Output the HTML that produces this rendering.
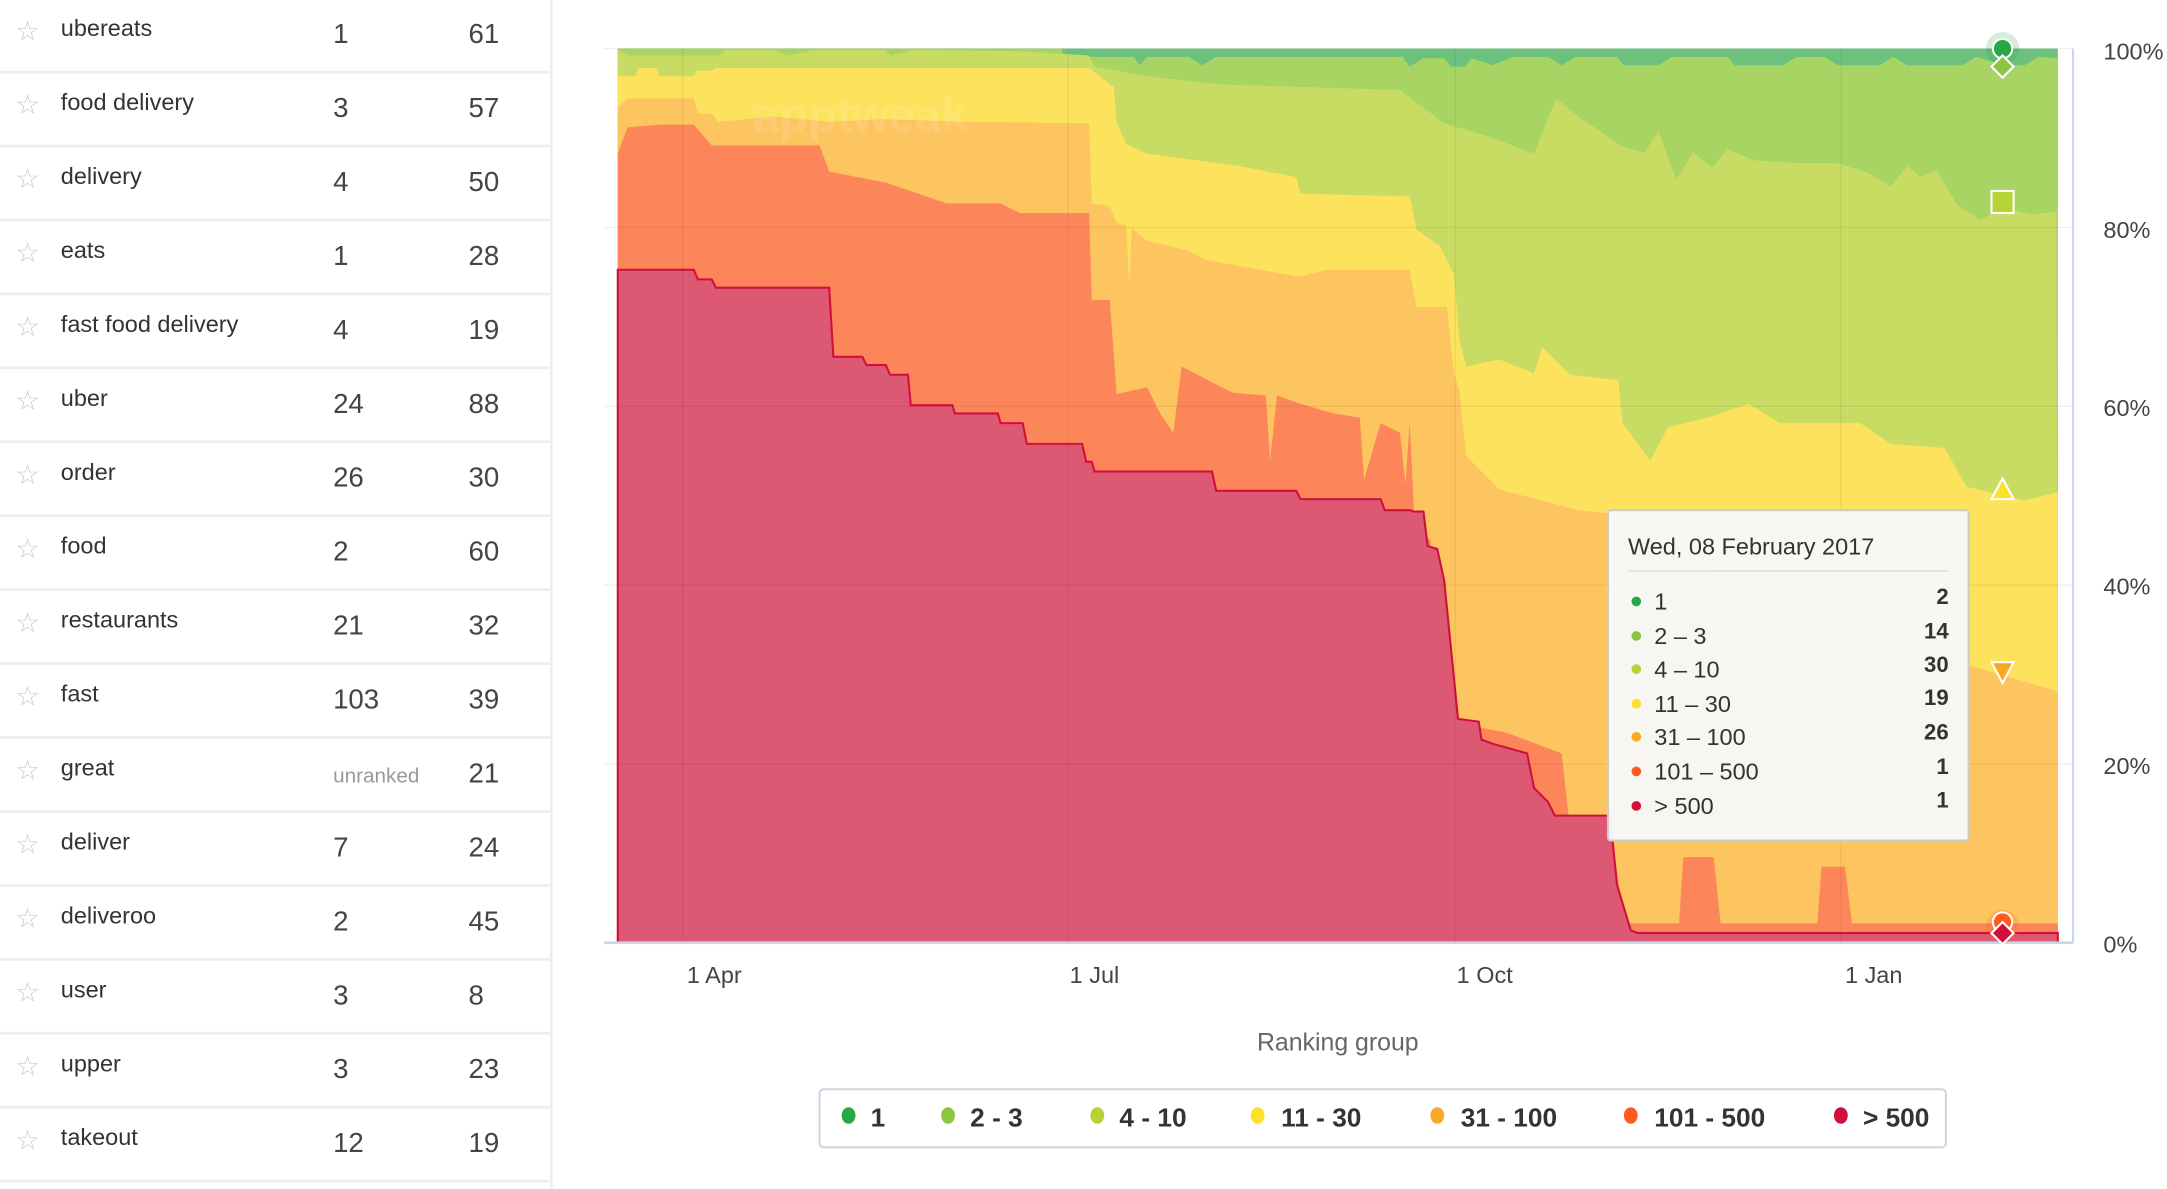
<!DOCTYPE html>
<html><head><meta charset="utf-8"><style>
html,body{margin:0;padding:0;background:#fff;width:2167px;height:1189px;overflow:hidden}
svg{display:block}
text{font-family:"Liberation Sans",sans-serif}
</style></head><body>
<svg width="2167" height="1189" viewBox="0 0 1568 860" xmlns="http://www.w3.org/2000/svg">
<!-- table -->
<g font-size="17" fill="#333">
<line x1="399" y1="0" x2="399" y2="860" stroke="#eee" stroke-width="2"/>
<g stroke="#eee" stroke-width="2">
<line x1="0" y1="52" x2="399" y2="52"/><line x1="0" y1="105.5" x2="399" y2="105.5"/><line x1="0" y1="159" x2="399" y2="159"/><line x1="0" y1="212.5" x2="399" y2="212.5"/><line x1="0" y1="266" x2="399" y2="266"/><line x1="0" y1="319.5" x2="399" y2="319.5"/><line x1="0" y1="373" x2="399" y2="373"/><line x1="0" y1="426.5" x2="399" y2="426.5"/><line x1="0" y1="480" x2="399" y2="480"/><line x1="0" y1="533.5" x2="399" y2="533.5"/><line x1="0" y1="587" x2="399" y2="587"/><line x1="0" y1="640.5" x2="399" y2="640.5"/><line x1="0" y1="694" x2="399" y2="694"/><line x1="0" y1="747.5" x2="399" y2="747.5"/><line x1="0" y1="801" x2="399" y2="801"/><line x1="0" y1="854.5" x2="399" y2="854.5"/>
</g>
<g font-size="20" fill="#ccc">
<text x="11" y="29">☆</text><text x="11" y="82.5">☆</text><text x="11" y="136">☆</text><text x="11" y="189.5">☆</text><text x="11" y="243">☆</text><text x="11" y="296.5">☆</text><text x="11" y="350">☆</text><text x="11" y="403.5">☆</text><text x="11" y="457">☆</text><text x="11" y="510.5">☆</text><text x="11" y="564">☆</text><text x="11" y="617.5">☆</text><text x="11" y="671">☆</text><text x="11" y="724.5">☆</text><text x="11" y="778">☆</text><text x="11" y="831.5">☆</text>
</g>
<g>
<text x="44" y="26">ubereats</text><text x="44" y="79.5">food delivery</text><text x="44" y="133">delivery</text><text x="44" y="186.5">eats</text><text x="44" y="240">fast food delivery</text><text x="44" y="293.5">uber</text><text x="44" y="347">order</text><text x="44" y="400.5">food</text><text x="44" y="454">restaurants</text><text x="44" y="507.5">fast</text><text x="44" y="561">great</text><text x="44" y="614.5">deliver</text><text x="44" y="668">deliveroo</text><text x="44" y="721.5">user</text><text x="44" y="775">upper</text><text x="44" y="828.5">takeout</text>
</g>
<g font-size="20" fill="#444">
<text x="241" y="31">1</text><text x="241" y="84.5">3</text><text x="241" y="138">4</text><text x="241" y="191.5">1</text><text x="241" y="245">4</text><text x="241" y="298.5">24</text><text x="241" y="352">26</text><text x="241" y="405.5">2</text><text x="241" y="459">21</text><text x="241" y="512.5">103</text><text x="241" y="566" font-size="15" fill="#999">unranked</text><text x="241" y="619.5">7</text><text x="241" y="673">2</text><text x="241" y="726.5">3</text><text x="241" y="780">3</text><text x="241" y="833.5">12</text>
<text x="339" y="31">61</text><text x="339" y="84.5">57</text><text x="339" y="138">50</text><text x="339" y="191.5">28</text><text x="339" y="245">19</text><text x="339" y="298.5">88</text><text x="339" y="352">30</text><text x="339" y="405.5">60</text><text x="339" y="459">32</text><text x="339" y="512.5">39</text><text x="339" y="566">21</text><text x="339" y="619.5">24</text><text x="339" y="673">45</text><text x="339" y="726.5">8</text><text x="339" y="780">23</text><text x="339" y="833.5">19</text>
</g>
</g>
<!-- chart areas -->
<rect x="447" y="35" width="1042" height="647" fill="#6cc27c"/>
<polygon fill="#a8d463" points="447,35 768,35 770,41 820,41 825,47 830,41 860,41 870,47 880,41 1015,41 1020,48 1030,42 1045,42 1050,48 1060,48 1065,42 1080,47 1095,41 1120,41 1130,47 1140,41 1170,41 1175,47 1200,47 1210,41 1250,41 1255,47 1290,47 1300,41 1320,41 1330,47 1360,47 1370,41 1380,47 1420,47 1430,41 1450,47 1465,47 1475,41 1489,42 1489,682 447,682"/>
<polygon fill="#c8dc63" points="447,36 455,40 520,40 525,36 560,36 570,40 590,36 640,36 645,40 660,36 740,37 788,40 792,48 830,55 884,61 1013,65 1045,89 1078,99 1110,111 1126,71 1142,84 1174,106 1190,110 1200,95 1213,130 1225,110 1239,121 1250,108 1270,116 1304,118 1330,118 1352,125 1368,135 1380,120 1390,128 1401,123 1417,149 1433,159 1450,150 1470,155 1488,153 1489,682 447,682"/>
<polygon fill="#fde25e" points="447,55 460,55 462,49 475,49 477,55 502,55 504,51 515,51 518,49 788,49 806,63 808,89 815,104 830,111 897,120 938,128 941,140 1020,142 1025,166 1042,178 1052,198 1056,246 1061,265 1085,260 1110,270 1116,251 1136,271 1171,275 1174,306 1194,333 1207,309 1239,301 1265,292 1288,306 1346,306 1368,321 1407,324 1423,352 1465,362 1489,356 1489,682 447,682"/>
<polygon fill="#fdc55f" points="447,77 455,71 502,71 505,82 515,82 520,88 560,84 600,88 640,86 700,88 788,89 790,147 803,149 808,161 815,163 817,207 819,165 830,174 859,181 873,188 940,200 960,195 1020,195 1025,222 1047,222 1052,270 1056,282 1061,330 1085,354 1142,369 1170,372 1250,420 1350,460 1420,480 1489,500 1489,682 447,682"/>
<polygon fill="#fc8659" points="447,111 454,92 478,90 502,90 515,105 593,105 600,124 641,132 685,147 724,147 738,154 788,154 790,217 803,217 808,285 830,280 840,300 849,313 855,265 878,277 892,284 916,286 919,333 924,286 941,292 965,299 984,302 987,347 999,306 1013,313 1017,350 1020,306 1024,386 1035,390 1045,520 1065,525 1090,530 1130,545 1135,590 1165,592 1175,668 1215,668 1218,620 1240,620 1245,668 1315,668 1318,627 1335,627 1340,668 1489,668 1489,682 447,682"/>
<polygon fill="#dd5873" stroke="#d0103a" stroke-width="1.5" points="447,195 502,195 505,202 515,202 518,208 600,208 603,258 624,258 627,264 641,264 644,271 657,271 659,293 689,293 691,299 722,299 724,306 740,306 743,321 783,321 786,334 790,334 792,341 877,341 880,355 938,355 941,361 999,361 1002,369 1020,369 1023,370 1030,370 1033,395 1040,397 1045,420 1050,470 1055,520 1070,522 1072,535 1080,538 1105,545 1110,570 1120,580 1125,590 1165,590 1170,640 1180,673 1185,675 1489,675 1489,682 447,682"/>
<text x="545" y="95" font-size="34" font-weight="bold" fill="#fff" fill-opacity="0.12">apptweak</text>
<!-- grid -->
<g stroke="#000" stroke-opacity="0.06" stroke-width="1">
<line x1="437" y1="35" x2="1500" y2="35"/><line x1="437" y1="164.4" x2="1500" y2="164.4"/><line x1="437" y1="293.8" x2="1500" y2="293.8"/><line x1="437" y1="423.2" x2="1500" y2="423.2"/><line x1="437" y1="552.6" x2="1500" y2="552.6"/>
<line x1="494" y1="35" x2="494" y2="682"/><line x1="773" y1="35" x2="773" y2="682"/><line x1="1053" y1="35" x2="1053" y2="682"/><line x1="1332" y1="35" x2="1332" y2="682"/>
</g>
<line x1="1500" y1="35" x2="1500" y2="682" stroke="#ccd6eb" stroke-width="1.5"/>
<line x1="437" y1="682" x2="1500" y2="682" stroke="#ccd6eb" stroke-width="2"/>
<!-- markers -->
<circle cx="1449" cy="35" r="12" fill="#28a745" fill-opacity="0.2"/>
<circle cx="1449" cy="35" r="7" fill="#28a745" stroke="#fff" stroke-width="1.5"/>
<polygon points="1449,40 1457,48 1449,56 1441,48" fill="#8cc63f" stroke="#fff" stroke-width="1.5"/>
<rect x="1441" y="138" width="16" height="16" fill="#b5d334" stroke="#fff" stroke-width="1.5"/>
<polygon points="1449,346 1457,361 1441,361" fill="#fde02a" stroke="#fff" stroke-width="1.5"/>
<polygon points="1441,479 1457,479 1449,494" fill="#f9a825" stroke="#fff" stroke-width="1.5"/>
<circle cx="1449" cy="670" r="12" fill="#ff5a1f" fill-opacity="0.2"/>
<circle cx="1449" cy="667" r="7" fill="#ff5a1f" stroke="#fff" stroke-width="1.5"/>
<polygon points="1449,667 1457,675 1449,683 1441,675" fill="#d0103a" stroke="#fff" stroke-width="1.5"/>
<!-- y labels -->
<g font-size="17" fill="#444">
<text x="1522" y="43">100%</text><text x="1522" y="172">80%</text><text x="1522" y="301">60%</text><text x="1522" y="430">40%</text><text x="1522" y="560">20%</text><text x="1522" y="689">0%</text>
</g>
<g font-size="17" fill="#444">
<text x="497" y="711">1 Apr</text><text x="774" y="711">1 Jul</text><text x="1054" y="711">1 Oct</text><text x="1335" y="711">1 Jan</text>
</g>
<text x="968" y="760" font-size="18" fill="#666" text-anchor="middle">Ranking group</text>
<!-- legend -->
<rect x="593" y="788" width="815" height="42" rx="3" fill="#fff" stroke="#ccd6e0" stroke-width="1.5"/>
<g font-size="19" font-weight="bold" fill="#333">
<ellipse cx="614" cy="807" rx="5" ry="6" fill="#28a745"/><text x="630" y="815">1</text>
<ellipse cx="686" cy="807" rx="5" ry="6" fill="#8cc63f"/><text x="702" y="815">2 - 3</text>
<ellipse cx="794" cy="807" rx="5" ry="6" fill="#b5d334"/><text x="810" y="815">4 - 10</text>
<ellipse cx="910" cy="807" rx="5" ry="6" fill="#fde02a"/><text x="927" y="815">11 - 30</text>
<ellipse cx="1040" cy="807" rx="5" ry="6" fill="#f9a825"/><text x="1057" y="815">31 - 100</text>
<ellipse cx="1180" cy="807" rx="5" ry="6" fill="#ff5a1f"/><text x="1197" y="815">101 - 500</text>
<ellipse cx="1332" cy="807" rx="5" ry="6" fill="#d0103a"/><text x="1348" y="815">&gt; 500</text>
</g>
<!-- tooltip -->
<rect x="1163.5" y="369" width="261" height="239" rx="2" fill="#f8f8f8" fill-opacity="0.96" stroke="#ccc" stroke-width="1.5"/>
<text x="1178" y="401" font-size="17" fill="#333">Wed, 08 February 2017</text>
<line x1="1178" y1="413" x2="1410" y2="413" stroke="#e3e3e3" stroke-width="1.5"/>
<g font-size="17" fill="#333">
<circle cx="1184" cy="435" r="3.5" fill="#28a745"/><text x="1197" y="441">1</text>
<circle cx="1184" cy="460" r="3.5" fill="#8cc63f"/><text x="1197" y="466">2 – 3</text>
<circle cx="1184" cy="484" r="3.5" fill="#b5d334"/><text x="1197" y="490">4 – 10</text>
<circle cx="1184" cy="509" r="3.5" fill="#fde02a"/><text x="1197" y="515">11 – 30</text>
<circle cx="1184" cy="533" r="3.5" fill="#f9a825"/><text x="1197" y="539">31 – 100</text>
<circle cx="1184" cy="558" r="3.5" fill="#ff5a1f"/><text x="1197" y="564">101 – 500</text>
<circle cx="1184" cy="583" r="3.5" fill="#d0103a"/><text x="1197" y="589">&gt; 500</text>
</g>
<g font-size="16" font-weight="bold" fill="#333" text-anchor="end">
<text x="1410" y="437">2</text><text x="1410" y="462">14</text><text x="1410" y="486">30</text><text x="1410" y="510">19</text><text x="1410" y="535">26</text><text x="1410" y="560">1</text><text x="1410" y="584">1</text>
</g>
</svg>
</body></html>
